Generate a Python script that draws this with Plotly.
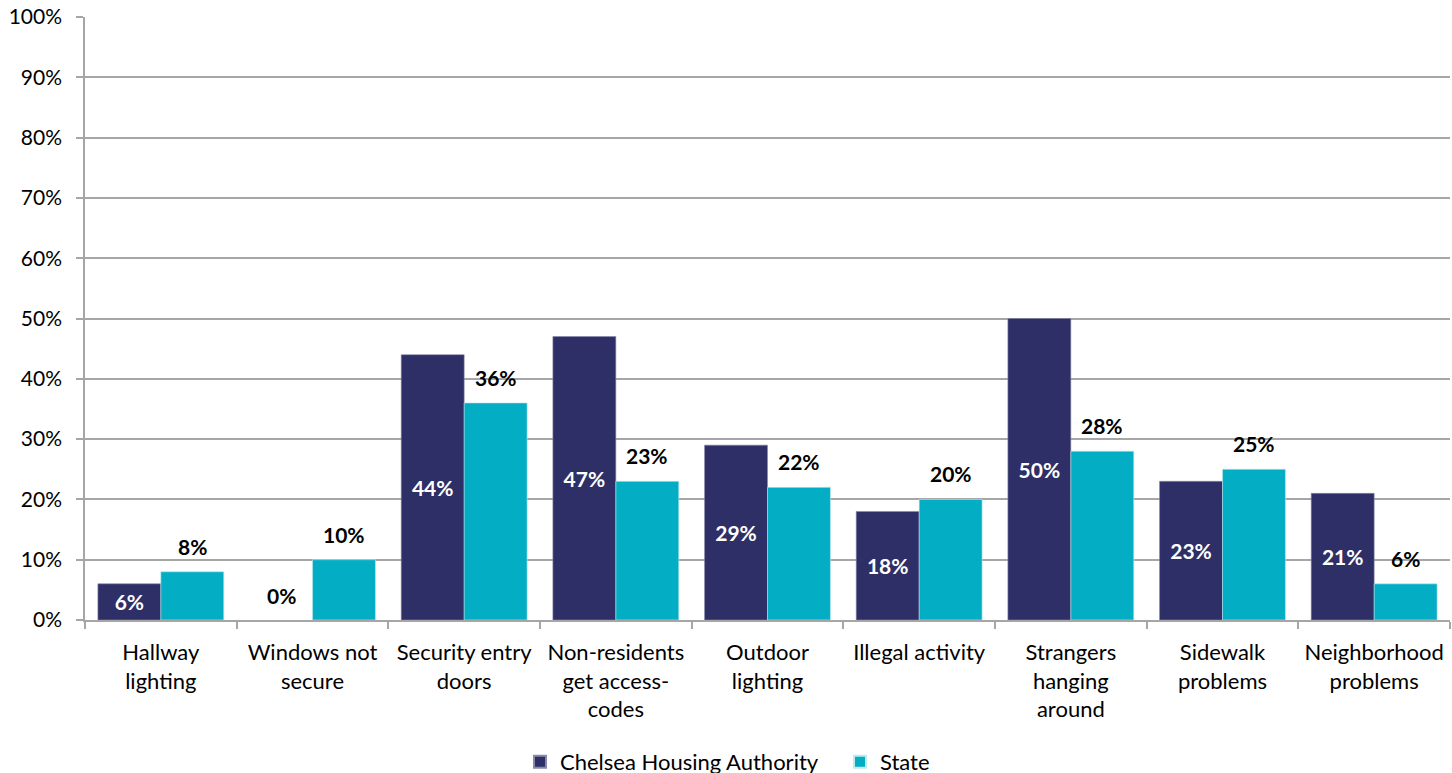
import plotly.graph_objects as go

categories = ["Hallway<br>lighting", "Windows not<br>secure", "Security entry<br>doors",
              "Non-residents<br>get access-<br>codes", "Outdoor<br>lighting", "Illegal activity",
              "Strangers<br>hanging<br>around", "Sidewalk<br>problems", "Neighborhood<br>problems"]
chelsea = [6, 0, 44, 47, 29, 18, 50, 23, 21]
state = [8, 10, 36, 23, 22, 20, 28, 25, 6]
series_names = ["Chelsea Housing Authority", "State"]
tick_vals = [0, 10, 20, 30, 40, 50, 60, 70, 80, 90, 100]
tick_text = [f"{v}%" for v in tick_vals]

NAVY = "#2E2F66"
TEAL = "#03AEC5"
GRID = "#A6A6A6"
FONT = "Lato"

fig = go.Figure()
fig.add_trace(go.Bar(
    name=series_names[0], x=categories, y=chelsea,
    marker=dict(color=NAVY, line=dict(width=[0.6 if v > 0 else 0 for v in chelsea], color="#8888aa")),
    text=[f"{v}%" if v > 0 else "" for v in chelsea], textposition="inside", insidetextanchor="middle",
    textfont=dict(family=FONT, size=21, color="white", weight="bold"), textangle=0,
    constraintext="none",
))
fig.add_trace(go.Bar(
    name=series_names[1], x=categories, y=state,
    marker=dict(color=TEAL, line=dict(width=[0.6 if v > 0 else 0 for v in state], color="#bfeaf0")),
))

half = 31.5
for c, v in zip(categories, state):
    fig.add_annotation(x=c, y=v, xshift=half, yshift=11, yanchor="bottom", showarrow=False,
                       text=f"<b>{v}%</b>", font=dict(family=FONT, size=21, color="black"))
for c, v in zip(categories, chelsea):
    if v == 0:
        fig.add_annotation(x=c, y=v, xshift=-half, yshift=25, yanchor="middle", showarrow=False,
                           text=f"<b>{v}%</b>", font=dict(family=FONT, size=21, color="black"))

fig.update_layout(
    width=1452, height=800,
    margin=dict(l=85, r=2, t=17, b=180),
    barmode="group", bargap=0.17, bargroupgap=0,
    plot_bgcolor="white", paper_bgcolor="white",
    font=dict(family=FONT, size=22, color="black"),
    showlegend=True,
    legend=dict(orientation="h", x=(520 - 85) / 1365, xanchor="left", y=-0.2007, yanchor="top",
                font=dict(family=FONT, size=22, color="black"), itemsizing="constant",
                traceorder="normal", entrywidth=275, entrywidthmode="pixels"),
)
fig.update_yaxes(range=[0, 100], tickvals=tick_vals, ticktext=tick_text, showgrid=True,
                 gridcolor=GRID, gridwidth=1.5, showline=True, linecolor=GRID, linewidth=1.5,
                 ticks="outside", ticklen=7, tickcolor=GRID, tickwidth=1.5, zeroline=False,
                 ticklabelstandoff=10, automargin=False,
                 tickfont=dict(family=FONT, size=21, color="black"))
fig.update_xaxes(showline=True, linecolor=GRID, linewidth=1.5, ticks="outside", ticklen=7,
                 tickcolor=GRID, tickwidth=1.5, tickson="boundaries", automargin=False,
                 ticklabelstandoff=12,
                 tickfont=dict(family=FONT, size=22, color="black"), tickangle=0)

fig.write_html("out.html", config={"displayModeBar": False},
               post_script="document.body.style.margin='0';document.body.style.overflow='hidden';"
                           "document.documentElement.style.overflow='hidden';")
